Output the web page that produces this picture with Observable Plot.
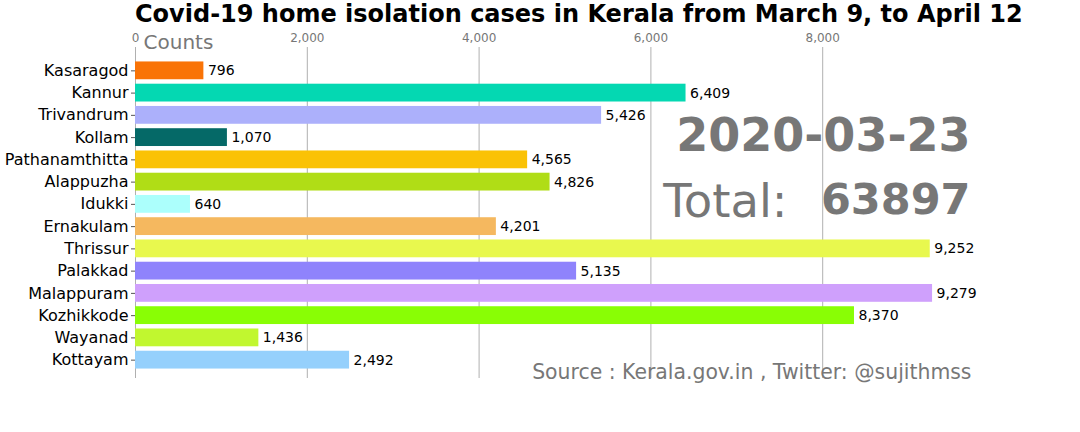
<!DOCTYPE html>
<html>
<head>
<meta charset="utf-8">
<script src="https://cdn.jsdelivr.net/npm/d3@7"></script>
<script src="https://cdn.jsdelivr.net/npm/@observablehq/plot@0.6"></script>
<style>
  body { margin: 0; background: #fff; font-family: "DejaVu Sans", sans-serif; }
  #title { height: 28px; line-height: 28px; font-weight: bold; font-size: 24px; padding-left: 135px; white-space: nowrap; color: #000; }
</style>
</head>
<body>
<div id="title">Covid-19 home isolation cases in Kerala from March 9, to April 12</div>
<div id="chart"></div>
<script>
const districts = ["Kasaragod","Kannur","Trivandrum","Kollam","Pathanamthitta","Alappuzha","Idukki","Ernakulam","Thrissur","Palakkad","Malappuram","Kozhikkode","Wayanad","Kottayam"];
const counts = [796, 6409, 5426, 1070, 4565, 4826, 640, 4201, 9252, 5135, 9279, 8370, 1436, 2492];
const colors = ["#f97306","#04d8b2","#acb0fb","#056967","#fac205","#b0dd16","#acfffc","#f5b85f","#e8f84e","#8f83fc","#cfa0fc","#89fe05","#c1f72f","#95d0fc"];
const xTicks = [0, 2000, 4000, 6000, 8000];
const dateLabel = "2020-03-23";
const totalLabel = "Total:";
const totalValue = "63897";
const axisLabel = "Counts";
const sourceLabel = "Source : Kerala.gov.in , Twitter: @sujithmss";

const data = districts.map((d, i) => ({district: d, count: counts[i], color: colors[i]}));
const fmt = d3.format(",");

const chart = Plot.plot({
  width: 1080,
  height: 404,
  marginLeft: 135,
  marginRight: 86,
  marginTop: 19,
  marginBottom: 54,
  style: {fontFamily: "DejaVu Sans, sans-serif", background: "#fff"},
  x: {domain: [0, 10000], axis: null},
  y: {domain: districts, padding: 0.2, round: false, insetTop: 10, insetBottom: 5, axis: null},
  marks: [
    Plot.gridX(xTicks, {stroke: "#b0b0b0", strokeOpacity: 1, strokeWidth: 1}),
    Plot.axisX(xTicks, {anchor: "top", tickSize: 0, tickPadding: 6, fontSize: 12, fill: "#777", tickFormat: fmt, label: null}),
    Plot.axisY({anchor: "left", tickSize: 4, tickPadding: 3, fontSize: 16, fill: "#000", stroke: "#555", label: null}),
    Plot.barX(data, {x: "count", y: "district", fill: "color"}),
    Plot.text(data, {x: "count", y: "district", text: d => fmt(d.count), textAnchor: "start", dx: 4, fontSize: 14, fill: "#000"}),
    Plot.text([axisLabel], {frameAnchor: "top-left", text: d => d, dx: 8, dy: -13, fontSize: 20, fill: "#777", textAnchor: "start"}),
    Plot.text([dateLabel], {frameAnchor: "top-right", text: d => d, dx: -24, dy: 71, fontSize: 46, fontWeight: "bold", fill: "#777", textAnchor: "end"}),
    Plot.text([totalValue], {frameAnchor: "top-right", text: d => d, dx: -24, dy: 136, fontSize: 43, fontWeight: "bold", fill: "#777", textAnchor: "end"}),
    Plot.text([totalLabel], {frameAnchor: "top-right", text: d => d, dx: -207, dy: 136, fontSize: 46.5, fill: "#777", textAnchor: "end"}),
    Plot.text([sourceLabel], {frameAnchor: "bottom-right", text: d => d, dx: -23, dy: 0, fontSize: 20.4, fill: "#777", textAnchor: "end"})
  ]
});
document.getElementById("chart").appendChild(chart);
</script>
</body>
</html>
